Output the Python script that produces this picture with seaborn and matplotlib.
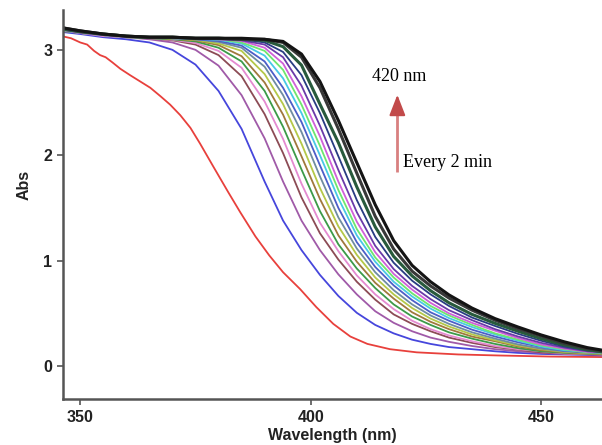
import numpy as np
import pandas as pd
import matplotlib
matplotlib.use("Agg")
import matplotlib.pyplot as plt
import seaborn as sns

# wavelength grid (nm) shared by the later spectra
wavelength = [346, 350, 355, 360, 365, 370, 375, 380, 385, 390, 394, 398, 402, 406,
              410, 414, 418, 422, 426, 430, 435, 440, 445, 450, 455, 460, 464]

# first spectrum (red) read on its own, denser grid
wavelength_01 = [346, 348, 350, 351.5, 353, 354.3, 355.5, 357, 358.7, 360.8, 363, 365.2,
                 367.4, 369.5, 371.7, 373.9, 376, 378.9, 382.1, 384.7, 388, 391, 394,
                 397.7, 401.2, 404.9, 408.6, 412.3, 417.2, 423, 432, 441, 452, 464]
abs_01 = [3.13, 3.11, 3.07, 3.05, 2.99, 2.95, 2.93, 2.88, 2.82, 2.76, 2.70, 2.64,
          2.56, 2.48, 2.38, 2.26, 2.11, 1.89, 1.65, 1.46, 1.23, 1.05, 0.89,
          0.73, 0.56, 0.40, 0.28, 0.21, 0.16, 0.13, 0.11, 0.10, 0.09, 0.085]

# later spectra, every 2 min
abs_02 = [3.17, 3.15, 3.12, 3.10, 3.07, 3.00, 2.86, 2.61, 2.25, 1.75, 1.38, 1.10, 0.865, 0.665,
          0.505, 0.39, 0.31, 0.25, 0.21, 0.18, 0.16, 0.14, 0.125, 0.115, 0.11, 0.105, 0.10]
abs_03 = [3.18, 3.16, 3.14, 3.12, 3.10, 3.07, 3.00, 2.85, 2.57, 2.16, 1.75, 1.38, 1.10, 0.87,
          0.68, 0.52, 0.41, 0.33, 0.27, 0.23, 0.19, 0.16, 0.14, 0.125, 0.115, 0.11, 0.105]
abs_04 = [3.18, 3.16, 3.14, 3.12, 3.11, 3.09, 3.05, 2.95, 2.75, 2.39, 2.02, 1.60, 1.26, 1.01,
          0.80, 0.63, 0.49, 0.40, 0.33, 0.27, 0.22, 0.18, 0.155, 0.13, 0.12, 0.113, 0.108]
abs_05 = [3.19, 3.16, 3.13, 3.12, 3.11, 3.095, 3.065, 2.99, 2.83, 2.51, 2.155, 1.73, 1.36, 1.09,
          0.86, 0.68, 0.54, 0.43, 0.35, 0.29, 0.235, 0.19, 0.16, 0.14, 0.12, 0.115, 0.11]
abs_06 = [3.18, 3.17, 3.14, 3.12, 3.11, 3.10, 3.08, 3.02, 2.89, 2.61, 2.27, 1.865, 1.47, 1.155,
          0.925, 0.74, 0.585, 0.47, 0.39, 0.32, 0.26, 0.21, 0.17, 0.14, 0.125, 0.117, 0.112]
abs_07 = [3.19, 3.16, 3.14, 3.13, 3.12, 3.105, 3.09, 3.045, 2.94, 2.69, 2.385, 1.99, 1.585, 1.24,
          0.99, 0.79, 0.64, 0.51, 0.42, 0.35, 0.28, 0.235, 0.185, 0.15, 0.13, 0.12, 0.115]
abs_08 = [3.18, 3.16, 3.14, 3.12, 3.12, 3.105, 3.095, 3.06, 2.99, 2.77, 2.485, 2.11, 1.69, 1.325,
          1.055, 0.84, 0.68, 0.55, 0.45, 0.375, 0.30, 0.245, 0.195, 0.16, 0.135, 0.123, 0.118]
abs_09 = [3.19, 3.17, 3.14, 3.13, 3.12, 3.11, 3.10, 3.075, 3.02, 2.84, 2.57, 2.22, 1.80, 1.41,
          1.115, 0.89, 0.72, 0.585, 0.48, 0.40, 0.32, 0.26, 0.205, 0.165, 0.14, 0.127, 0.12]
abs_10 = [3.18, 3.16, 3.15, 3.13, 3.12, 3.11, 3.10, 3.085, 3.04, 2.89, 2.64, 2.315, 1.905, 1.50,
          1.175, 0.94, 0.765, 0.625, 0.51, 0.43, 0.345, 0.28, 0.225, 0.18, 0.145, 0.132, 0.125]
abs_11 = [3.19, 3.16, 3.14, 3.12, 3.12, 3.11, 3.105, 3.095, 3.06, 2.945, 2.73, 2.40, 2.00, 1.59,
          1.24, 0.99, 0.80, 0.66, 0.545, 0.455, 0.37, 0.30, 0.24, 0.185, 0.15, 0.135, 0.127]
abs_12 = [3.18, 3.17, 3.14, 3.13, 3.12, 3.11, 3.105, 3.10, 3.07, 2.99, 2.81, 2.48, 2.09, 1.67,
          1.30, 1.03, 0.84, 0.69, 0.57, 0.48, 0.39, 0.31, 0.25, 0.195, 0.158, 0.13, 0.125]
abs_13 = [3.19, 3.16, 3.14, 3.12, 3.12, 3.11, 3.11, 3.10, 3.085, 3.02, 2.87, 2.56, 2.18, 1.75,
          1.37, 1.08, 0.875, 0.725, 0.60, 0.50, 0.41, 0.335, 0.265, 0.205, 0.165, 0.135, 0.128]
abs_14 = [3.20, 3.17, 3.15, 3.13, 3.12, 3.11, 3.11, 3.10, 3.09, 3.05, 2.93, 2.66, 2.28, 1.86,
          1.46, 1.14, 0.92, 0.76, 0.635, 0.53, 0.435, 0.35, 0.28, 0.22, 0.175, 0.14, 0.13]
abs_15 = [3.19, 3.17, 3.14, 3.13, 3.12, 3.12, 3.11, 3.11, 3.10, 3.07, 2.98, 2.76, 2.40, 1.99,
          1.575, 1.225, 0.98, 0.81, 0.68, 0.57, 0.46, 0.38, 0.305, 0.24, 0.185, 0.148, 0.13]
abs_16 = [3.20, 3.17, 3.15, 3.13, 3.12, 3.12, 3.11, 3.11, 3.10, 3.09, 3.03, 2.855, 2.485, 2.12,
          1.70, 1.32, 1.04, 0.855, 0.715, 0.60, 0.49, 0.405, 0.33, 0.26, 0.20, 0.155, 0.13]
abs_17 = [3.21, 3.18, 3.15, 3.13, 3.12, 3.12, 3.11, 3.11, 3.10, 3.10, 3.07, 2.93, 2.64, 2.25,
          1.83, 1.42, 1.11, 0.90, 0.76, 0.645, 0.53, 0.435, 0.355, 0.285, 0.215, 0.165, 0.14]
abs_18 = [3.21, 3.18, 3.15, 3.13, 3.12, 3.12, 3.11, 3.11, 3.11, 3.10, 3.08, 2.96, 2.70, 2.33,
          1.93, 1.53, 1.19, 0.955, 0.80, 0.675, 0.55, 0.45, 0.37, 0.295, 0.23, 0.175, 0.145]

later_spectra = [abs_02, abs_03, abs_04, abs_05, abs_06, abs_07, abs_08, abs_09,
                 abs_10, abs_11, abs_12, abs_13, abs_14, abs_15, abs_16, abs_17, abs_18]
colors = ['#e8403c', '#4646dc', '#a05aa8', '#8c4b55', '#e48ad0', '#3c9a48', '#a0783c',
          '#b4c848', '#6e8ca0', '#4c5ec8', '#48c8e6', '#6ee66e', '#d060d8', '#6a3aa8',
          '#283c82', '#285a3c', '#383838', '#141414']

x_ticks = [350, 400, 450]
y_ticks = [0, 1, 2, 3]

rows = [{"wl": w, "abs": a, "curve": "t00"} for w, a in zip(wavelength_01, abs_01)]
for i, s in enumerate(later_spectra, start=1):
    for w, a in zip(wavelength, s):
        rows.append({"wl": w, "abs": a, "curve": f"t{i:02d}"})
df = pd.DataFrame(rows)

sns.set_style("ticks")
plt.rcParams['font.family'] = ['Liberation Sans', 'DejaVu Sans']

fig = plt.figure(figsize=(6.02, 4.45), dpi=100)
ax = fig.add_axes([0.105, 0.104, 0.895, 0.874])

palette = {f"t{i:02d}": c for i, c in enumerate(colors)}
sns.lineplot(data=df, x="wl", y="abs", hue="curve", palette=palette, legend=False,
             estimator=None, sort=False, linewidth=1.3, ax=ax)
for ln in ax.get_lines()[-3:]:
    ln.set_linewidth(2.2)

ax.set_xlim(346.3, 463.2)
ax.set_ylim(-0.31, 3.38)
ax.set_xticks(x_ticks)
ax.set_yticks(y_ticks)
for lab in ax.get_xticklabels() + ax.get_yticklabels():
    lab.set_fontweight('bold')
    lab.set_fontsize(11.5)
    lab.set_color('#222222')
ax.tick_params(direction='out', length=4, width=1.2, color='#555555', pad=4)
ax.set_xlabel("Wavelength (nm)", fontsize=11.5, fontweight='bold', color='#222222', labelpad=2)
ax.set_ylabel("Abs", fontsize=11.5, fontweight='bold', color='#222222')
ax.yaxis.set_label_coords(-0.058, 0.55)
for side in ['top', 'right']:
    ax.spines[side].set_visible(False)
for side in ['left', 'bottom']:
    ax.spines[side].set_color('#555555')
    ax.spines[side].set_linewidth(1.8)

# annotation arrow and labels
ax.plot([418.8, 418.8], [1.84, 2.42], color='#d88080', linewidth=2, solid_capstyle='butt')
ax.annotate("", xy=(418.8, 2.60), xytext=(418.8, 2.40),
            arrowprops=dict(arrowstyle='-|>,head_length=0.9,head_width=0.35',
                            color='#c24a4a', linewidth=1.5, mutation_scale=14))
serif = ['Liberation Serif', 'DejaVu Serif']
ax.text(419.1, 2.75, "420 nm", family=serif, fontsize=13, ha='center', va='center',
        color='black')
ax.text(420.0, 1.93, "Every 2 min", family=serif, fontsize=13, ha='left', va='center',
        color='black')

fig.savefig("out.png", dpi=100)
